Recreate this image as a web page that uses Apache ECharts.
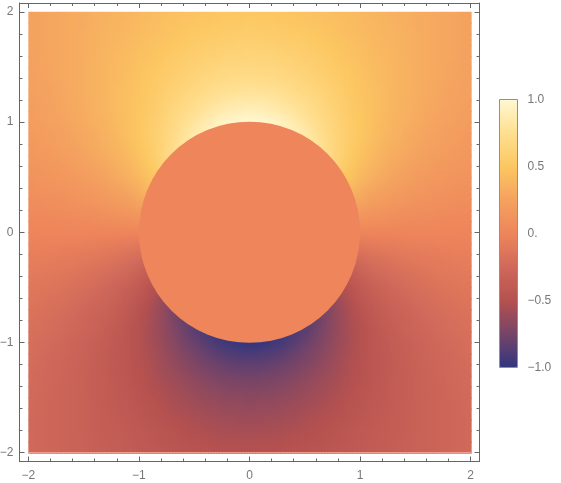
<!DOCTYPE html>
<html>
<head>
<meta charset="utf-8">
<title>density plot</title>
<script src="https://cdn.jsdelivr.net/npm/echarts@6/dist/echarts.min.js"></script>
<style>
  html, body { margin: 0; padding: 0; background: #fff; }
  #main { width: 561px; height: 483px; }
</style>
</head>
<body>
<div id="main"></div>
<script>
// node positions of one quadrant, the picture is mirrored left/right and flips sign top/bottom
const xNodes = [0, .1, .2, .3, .4, .5, .6, .7, .8, .9, 1, 1.1, 1.2, 1.3, 1.4, 1.5, 1.6, 1.7, 1.8, 1.9, 2];
const yNodes = [2, 1.9, 1.8, 1.7, 1.6, 1.5, 1.4, 1.3, 1.2, 1.1, 1, .9, .8, .7, .6, .5, .4, .3, .2, .1, 0];
// values, one row per yNodes entry (nodes under the disc carry the rim value)
const quadrantValues = [
  [.50,.50,.50,.49,.48,.47,.46,.45,.43,.42,.40,.38,.37,.35,.34,.32,.31,.29,.28,.26,.25],
  [.53,.52,.52,.51,.50,.49,.48,.46,.45,.43,.41,.39,.38,.36,.34,.32,.31,.29,.28,.26,.25],
  [.56,.55,.55,.54,.53,.52,.50,.48,.46,.44,.42,.40,.38,.37,.35,.33,.31,.29,.28,.26,.25],
  [.59,.59,.58,.57,.56,.54,.52,.50,.48,.46,.44,.41,.39,.37,.35,.33,.31,.29,.28,.26,.25],
  [.63,.62,.62,.60,.59,.57,.55,.53,.50,.47,.45,.42,.40,.38,.35,.33,.31,.29,.28,.26,.24],
  [.67,.66,.66,.64,.62,.60,.57,.55,.52,.49,.46,.43,.41,.38,.36,.33,.31,.29,.27,.26,.24],
  [.71,.71,.70,.68,.66,.63,.60,.57,.54,.51,.47,.44,.41,.38,.36,.33,.31,.29,.27,.25,.23],
  [.77,.76,.75,.73,.70,.67,.63,.60,.56,.52,.48,.45,.42,.38,.36,.33,.31,.28,.26,.25,.23],
  [.83,.83,.81,.78,.75,.71,.67,.62,.58,.53,.49,.45,.42,.38,.35,.33,.30,.28,.26,.24,.22],
  [.91,.90,.88,.85,.80,.75,.70,.65,.59,.54,.50,.45,.42,.38,.35,.32,.29,.27,.25,.23,.21],
  [1.0,.99,.96,.92,.86,.80,.74,.67,.61,.55,.50,.45,.41,.37,.34,.31,.28,.26,.24,.22,.20],
  [1.0,.99,.98,.95,.91,.85,.77,.69,.62,.56,.50,.45,.40,.36,.32,.29,.27,.24,.22,.20,.19],
  [1.0,.99,.97,.94,.89,.85,.80,.71,.62,.55,.49,.43,.38,.34,.31,.28,.25,.23,.21,.19,.17],
  [1.0,.99,.96,.92,.87,.81,.76,.71,.62,.54,.47,.41,.36,.32,.29,.26,.23,.21,.19,.17,.16],
  [1.0,.99,.95,.89,.83,.77,.71,.65,.60,.51,.44,.38,.33,.29,.26,.23,.21,.18,.17,.15,.14],
  [1.0,.98,.93,.86,.78,.71,.64,.58,.53,.47,.40,.34,.30,.26,.23,.20,.18,.16,.14,.13,.12],
  [1.0,.97,.89,.80,.71,.62,.55,.50,.45,.41,.34,.29,.25,.22,.19,.17,.15,.13,.12,.11,.10],
  [1.0,.95,.83,.71,.60,.51,.45,.39,.35,.32,.28,.23,.20,.17,.15,.13,.11,.10,.09,.08,.07],
  [1.0,.89,.71,.55,.45,.37,.32,.27,.24,.22,.19,.16,.14,.12,.10,.09,.08,.07,.06,.05,.05],
  [1.0,.71,.45,.32,.24,.20,.16,.14,.12,.11,.10,.08,.07,.06,.05,.04,.04,.03,.03,.03,.02],
  [0,0,0,0,0,0,0,0,0,0,0,0,0,0,0,0,0,0,0,0,0]
];
// the disc in the middle
const discValue = 0;
const discRadius = 1;
// thin light line along the bottom edge of the plot
const bottomEdge = [[-2, -2], [2, -2]];

// colour bar, low to high
const colorStops = ['#32367f', '#754468', '#b5514f', '#d0695a', '#ee855b', '#f4a25f', '#fcc761', '#ffdf90', '#fff8d2'];

const majorTicks = [-2, -1, 0, 1, 2];
const minorTicks = [-1.8, -1.6, -1.4, -1.2, -.8, -.6, -.4, -.2, .2, .4, .6, .8, 1.2, 1.4, 1.6, 1.8];
const legendTicks = [-1, -.5, 0, .5, 1];
const legendLabels = ['\u22121.0', '\u22120.5', '0.', '0.5', '1.0'];

const axisColor = '#666';
const labelColor = '#777';
const font = '"Liberation Sans", Arial, sans-serif';

// whole plot: mirror the quadrant to get all nodes
const gridX = xNodes.slice(1).reverse().map(v => -v).concat(xNodes);
const gridY = yNodes.concat(yNodes.slice(0, -1).reverse().map(v => -v));
const gridValues = gridY.map((y, r) => {
  const row = quadrantValues[r < yNodes.length ? r : gridY.length - 1 - r];
  const sign = y < 0 ? -1 : 1;
  return row.slice(1).reverse().concat(row).map(v => sign * v);
});

const cells = [];
for (let r = 0; r < gridY.length - 1; r++) {
  for (let c = 0; c < gridX.length - 1; c++) {
    cells.push([gridX[c], gridY[r], gridX[c + 1], gridY[r + 1], c, r]);
  }
}

function colorOf(v) {
  return echarts.color.lerp((Math.max(-1, Math.min(1, v)) + 1) / 2, colorStops);
}

// one cell: shaded between its four corner nodes, like the plot does
const STRIPS = 4;
function renderCell(params, api) {
  const p0 = api.coord([api.value(0), api.value(1)]);
  const p1 = api.coord([api.value(2), api.value(3)]);
  const c = api.value(4), r = api.value(5);
  const a = gridValues[r][c], b = gridValues[r][c + 1];
  const d = gridValues[r + 1][c], e = gridValues[r + 1][c + 1];
  const w = (p1[0] - p0[0]) / STRIPS;
  const h = p1[1] - p0[1];
  const children = [];
  for (let i = 0; i < STRIPS; i++) {
    const t = (i + .5) / STRIPS;
    // a little overlap, otherwise the antialiased edges show as seams
    children.push({
      type: 'rect',
      shape: { x: p0[0] + i * w, y: p0[1], width: w + 1, height: h + 1 },
      style: {
        fill: new echarts.graphic.LinearGradient(0, 0, 0, 1, [
          { offset: 0, color: colorOf(a + (b - a) * t) },
          { offset: h / (h + 1), color: colorOf(d + (e - d) * t) },
          { offset: 1, color: colorOf(d + (e - d) * t) }
        ])
      }
    });
  }
  return { type: 'group', children };
}

function renderDisc(params, api) {
  const c = api.coord([api.value(0), api.value(1)]);
  return {
    type: 'circle',
    shape: { cx: c[0], cy: c[1], r: api.size([api.value(2), 0])[0] },
    style: { fill: colorOf(api.value(3)) }
  };
}

function frameAxis(extra) {
  return Object.assign({
    type: 'value',
    min: -2.08,
    max: 2.08,
    gridIndex: 0,
    splitLine: { show: false },
    axisLine: { show: true, onZero: false, lineStyle: { color: axisColor, width: 1 } },
    axisTick: { show: true, inside: true, length: 5, customValues: majorTicks, lineStyle: { color: axisColor } },
    axisLabel: { show: false }
  }, extra);
}
function labelled(margin) {
  return {
    show: true,
    customValues: majorTicks,
    margin: margin,
    color: labelColor,
    fontFamily: font,
    fontSize: 12,
    formatter: v => String(v).replace('-', '\u2212')
  };
}
const minorTick = { show: true, inside: true, length: 3, customValues: minorTicks, lineStyle: { color: axisColor } };
const noLine = { show: false, onZero: false };

const dom = document.getElementById('main');
const myChart = echarts.init(dom);
myChart.setOption({
  animation: false,
  grid: [
    { left: 19.5, top: 3, width: 460, height: 458.5, outerBoundsMode: 'none' },
    { left: 499.5, top: 99.5, width: 18, height: 268, show: true, borderColor: '#97907f', borderWidth: 1, backgroundColor: 'transparent', z: 6, outerBoundsMode: 'none' }
  ],
  xAxis: [
    frameAxis({ position: 'bottom', axisLabel: labelled(8) }),
    frameAxis({ position: 'top' }),
    frameAxis({ position: 'bottom', axisLine: noLine, axisTick: minorTick }),
    frameAxis({ position: 'top', axisLine: noLine, axisTick: minorTick }),
    { type: 'value', gridIndex: 1, min: 0, max: 1, axisLine: { show: false }, axisTick: { show: false }, axisLabel: { show: false }, splitLine: { show: false } }
  ],
  yAxis: [
    frameAxis({ position: 'left', axisLabel: labelled(6) }),
    frameAxis({ position: 'right' }),
    frameAxis({ position: 'left', axisLine: noLine, axisTick: minorTick }),
    frameAxis({ position: 'right', axisLine: noLine, axisTick: minorTick }),
    {
      type: 'value',
      gridIndex: 1,
      position: 'right',
      min: -1,
      max: 1,
      interval: .5,
      splitLine: { show: false },
      axisLine: { show: false },
      axisTick: { show: true, length: 6, lineStyle: { color: '#c6c6c6' } },
      minorTick: { show: true, splitNumber: 5, length: 4, lineStyle: { color: '#c6c6c6' } },
      minorSplitLine: { show: false },
      axisLabel: {
        margin: 10,
        color: labelColor,
        fontFamily: font,
        fontSize: 12,
        formatter: v => legendLabels[legendTicks.indexOf(v)]
      }
    }
  ],
  visualMap: {
    type: 'continuous',
    seriesIndex: [],
    min: -1,
    max: 1,
    calculable: false,
    hoverLink: false,
    itemWidth: 18,
    itemHeight: 268,
    left: 499.5,
    top: 99.5,
    padding: 0,
    text: null,
    inRange: { color: colorStops }
  },
  series: [
    {
      type: 'custom',
      xAxisIndex: 0,
      yAxisIndex: 0,
      silent: true,
      progressive: 0,
      renderItem: renderCell,
      data: cells,
      z: 1
    },
    {
      type: 'custom',
      xAxisIndex: 0,
      yAxisIndex: 0,
      silent: true,
      renderItem: renderDisc,
      data: [[0, 0, discRadius, discValue]],
      z: 2
    },
    {
      type: 'line',
      xAxisIndex: 0,
      yAxisIndex: 0,
      silent: true,
      symbol: 'none',
      lineStyle: { color: '#f4ab9b', width: 1 },
      data: bottomEdge,
      z: 3
    }
  ]
});
</script>
</body>
</html>
